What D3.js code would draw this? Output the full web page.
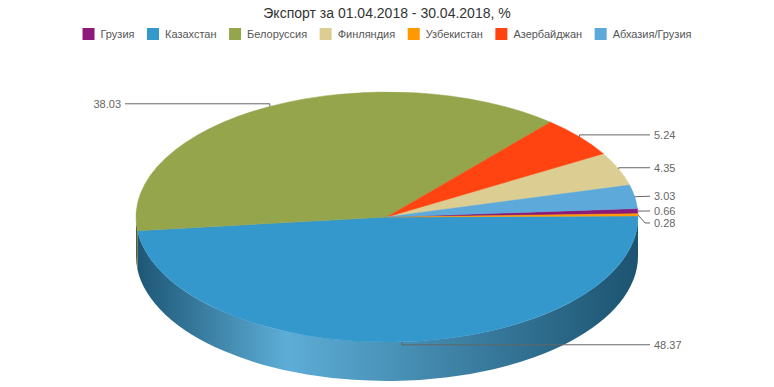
<!DOCTYPE html>
<html>
<head>
<meta charset="utf-8">
<script src="https://cdn.jsdelivr.net/npm/d3@7"></script>
<style>
  body { margin: 0; background: #fff; }
  svg { font-family: "Liberation Sans", Arial, sans-serif; }
</style>
</head>
<body>
<div id="chart"></div>
<script>
// chart data
var titleText = "Экспорт за 01.04.2018 - 30.04.2018, %";
var categories = ["Грузия", "Казахстан", "Белоруссия", "Финляндия", "Узбекистан", "Азербайджан", "Абхазия/Грузия"];
var values = [0.66, 48.37, 38.03, 4.35, 0.28, 5.24, 3.03];
var colors = ["#8b1a7a", "#3498cd", "#95a54c", "#dccd92", "#ff9900", "#ff4411", "#5ca9da"];

var width = 774, height = 387;
var cx = 387, cy = 217, rx = 251, ry = 125, depth = 39;

var svg = d3.select("#chart").append("svg")
  .attr("width", width)
  .attr("height", height);

// title
svg.append("text")
  .attr("x", width / 2)
  .attr("y", 18)
  .attr("text-anchor", "middle")
  .attr("font-size", "14px")
  .attr("fill", "#333")
  .text(titleText);

// legend, centered
var legend = svg.append("g");
var lx = 0, gap = 12.5;
categories.forEach(function (name, i) {
  var item = legend.append("g").attr("transform", "translate(" + lx + ",0)");
  item.append("rect")
    .attr("x", 0).attr("y", 28)
    .attr("width", 12).attr("height", 12)
    .attr("fill", colors[i]);
  var t = item.append("text")
    .attr("x", 18).attr("y", 38)
    .attr("font-size", "11px")
    .attr("fill", "#555")
    .text(name);
  lx += 18 + t.node().getComputedTextLength() + gap;
});
lx -= gap;
legend.attr("transform", "translate(" + ((width - lx) / 2) + ",0)");

// pie layout: 0deg = east, clockwise
var data = categories.map(function (c, i) { return { name: c, value: values[i], color: colors[i] }; });
var pie = d3.pie()
  .value(function (d) { return d.value; })
  .sort(function (a, b) { return b.value - a.value; })
  .startAngle((89.5) * Math.PI / 180)
  .endAngle((89.5 + 360) * Math.PI / 180);
var arcs = pie(data);

function pt(a, dy) {
  return [cx + rx * Math.cos(a), cy + ry * Math.sin(a) + (dy || 0)];
}
function toA(p) { return p - Math.PI / 2; }

var defs = svg.append("defs");

// sides (only front half visible)
var sides = svg.append("g");
arcs.forEach(function (d, i) {
  var a0 = toA(d.startAngle), a1 = toA(d.endAngle);
  var ranges = [];
  [[a0, a1], [a0 - 2 * Math.PI, a1 - 2 * Math.PI], [a0 + 2 * Math.PI, a1 + 2 * Math.PI]].forEach(function (r) {
    var s = Math.max(r[0], 0), e = Math.min(r[1], Math.PI);
    if (e > s) ranges.push([s, e]);
  });
  if (!ranges.length) return;
  var c = d3.color(d.data.color);
  var gid = "side" + i;
  var g = defs.append("linearGradient")
    .attr("id", gid)
    .attr("gradientUnits", "userSpaceOnUse")
    .attr("x1", cx - rx).attr("x2", cx + rx)
    .attr("y1", 0).attr("y2", 0);
  g.append("stop").attr("offset", 0).attr("stop-color", c.darker(1.6));
  g.append("stop").attr("offset", 0.3).attr("stop-color", d3.interpolateRgb(c, "#fff")(0.2));
  g.append("stop").attr("offset", 1).attr("stop-color", c.darker(1.7));
  ranges.forEach(function (r) {
    var p0 = pt(r[0]), p1 = pt(r[1]), q1 = pt(r[1], depth), q0 = pt(r[0], depth);
    var large = (r[1] - r[0]) > Math.PI ? 1 : 0;
    sides.append("path")
      .attr("d", "M" + p0 + "A" + rx + "," + ry + " 0 " + large + " 1 " + p1 +
        "L" + q1 + "A" + rx + "," + ry + " 0 " + large + " 0 " + q0 + "Z")
      .attr("fill", "url(#" + gid + ")");
  });
});

// top faces
var tops = svg.append("g");
arcs.forEach(function (d) {
  var a0 = toA(d.startAngle), a1 = toA(d.endAngle);
  var p0 = pt(a0), p1 = pt(a1);
  var large = (a1 - a0) > Math.PI ? 1 : 0;
  tops.append("path")
    .attr("d", "M" + cx + "," + cy + "L" + p0 + "A" + rx + "," + ry + " 0 " + large + " 1 " + p1 + "Z")
    .attr("fill", d.data.color)
    .attr("stroke", d.data.color)
    .attr("stroke-width", 0.5);
});

// data labels
var labels = arcs.map(function (d) {
  var m = toA((d.startAngle + d.endAngle) / 2);
  var p = pt(m);
  var y = p[1] + 3 * Math.sin(m);
  return { text: d.data.value.toFixed(2), ax: p[0], ay: p[1], y: y, right: Math.cos(m) >= 0 };
});
[true, false].forEach(function (side) {
  var list = labels.filter(function (l) { return l.right === side; })
    .sort(function (a, b) { return a.ay - b.ay; });
  for (var i = 1; i < list.length; i++) {
    if (list[i].y < list[i - 1].y + 12) list[i].y = list[i - 1].y + 12;
  }
});

var lg = svg.append("g");
labels.forEach(function (l) {
  var ex = l.right ? 650 : 125;
  var pts = [[l.ax, l.ay]];
  if (Math.abs(l.y - l.ay) > 1) {
    if (Math.abs(l.y - l.ay) > 5) pts.push([ex + (l.right ? -5 : 5), l.y]);
    else pts.push([l.ax, l.y]);
  }
  pts.push([ex, l.y]);
  lg.append("polyline")
    .attr("points", pts.map(function (p) { return p.join(","); }).join(" "))
    .attr("fill", "none")
    .attr("stroke", "#666")
    .attr("stroke-width", 1);
  lg.append("text")
    .attr("x", l.right ? 654 : 121)
    .attr("y", l.y)
    .attr("dy", "0.35em")
    .attr("text-anchor", l.right ? "start" : "end")
    .attr("font-size", "11px")
    .attr("fill", "#666")
    .text(l.text);
});
</script>
</body>
</html>
